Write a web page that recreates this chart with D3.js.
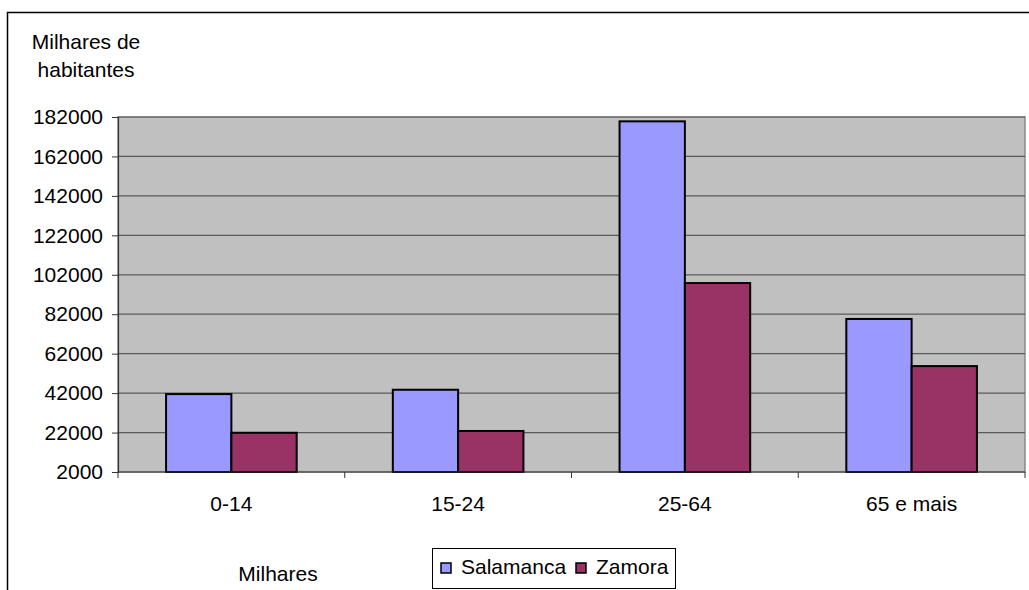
<!DOCTYPE html>
<html>
<head>
<meta charset="utf-8">
<script src="https://cdn.jsdelivr.net/npm/d3@7"></script>
<style>
  body { margin: 0; background: #fff; }
  svg { display: block; font-family: "Liberation Sans", Arial, sans-serif; }
</style>
</head>
<body>
<svg id="chart"></svg>
<script>
const categories = ['0-14', '15-24', '25-64', '65 e mais'];
const seriesNames = ['Salamanca', 'Zamora'];
const salamanca = [41500, 43700, 179800, 79600];
const zamora = [21900, 22800, 97800, 55700];
const yTicks = [2000, 22000, 42000, 62000, 82000, 102000, 122000, 142000, 162000, 182000];
const colors = ['#9999FF', '#993366'];

const width = 1029, height = 590;
const plot = { left: 118, top: 117, right: 1025, bottom: 472 };

const svg = d3.select('#chart').attr('width', width).attr('height', height);

// outer chart frame (only top and left edges show)
svg.append('path')
  .attr('d', `M7.5,${height} V12.5 H${width}`)
  .attr('fill', 'none')
  .attr('stroke', '#000')
  .attr('stroke-width', 1.5);

const x = d3.scaleBand().domain(categories).range([plot.left, plot.right]).padding(0);
const xInner = d3.scaleBand().domain(seriesNames).range([0, x.bandwidth()]).paddingInner(0).paddingOuter(0.736);
const y = d3.scaleLinear().domain([2000, 182000]).range([plot.bottom, plot.top]);

// plot background
svg.append('rect')
  .attr('x', plot.left).attr('y', plot.top)
  .attr('width', plot.right - plot.left).attr('height', plot.bottom - plot.top)
  .attr('fill', '#C0C0C0')
  .attr('stroke', '#8a8a8a').attr('stroke-width', 1.5);

// gridlines
svg.append('g')
  .selectAll('line')
  .data(yTicks.slice(1))
  .enter().append('line')
  .attr('x1', plot.left).attr('x2', plot.right)
  .attr('y1', d => y(d)).attr('y2', d => y(d))
  .attr('stroke', '#5a5a5a').attr('stroke-width', 1.2);

// bars
const rows = categories.map((c, i) => ({ cat: c, values: [salamanca[i], zamora[i]] }));
const groups = svg.append('g').selectAll('g')
  .data(rows)
  .enter().append('g')
  .attr('transform', d => `translate(${x(d.cat)},0)`);

groups.selectAll('rect')
  .data(d => d.values.map((v, j) => ({ name: seriesNames[j], value: v, idx: j })))
  .enter().append('rect')
  .attr('x', d => xInner(d.name))
  .attr('y', d => y(d.value))
  .attr('width', xInner.bandwidth())
  .attr('height', d => y(2000) - y(d.value))
  .attr('fill', d => colors[d.idx])
  .attr('stroke', '#000')
  .attr('stroke-width', 2);

// y axis
const yAxis = svg.append('g')
  .attr('transform', `translate(${plot.left},0)`)
  .call(d3.axisLeft(y).tickValues(yTicks).tickSize(6).tickPadding(9).tickFormat(d3.format('d')));
yAxis.select('.domain').attr('stroke', '#333').attr('stroke-width', 1.2);
yAxis.selectAll('.tick line').attr('stroke', '#333');
yAxis.selectAll('text').attr('font-size', 21).attr('fill', '#000')
  .attr('font-family', '"Liberation Sans", Arial, sans-serif');

// x axis (ticks on category boundaries)
const xAxis = svg.append('g').attr('transform', `translate(0,${plot.bottom})`);
xAxis.append('line')
  .attr('x1', plot.left).attr('x2', plot.right)
  .attr('stroke', '#333').attr('stroke-width', 1.2);
xAxis.selectAll('.tk')
  .data(categories)
  .enter().append('line')
  .attr('x1', d => x(d) + x.bandwidth()).attr('x2', d => x(d) + x.bandwidth())
  .attr('y1', 0).attr('y2', 6)
  .attr('stroke', '#333');
xAxis.append('line')
  .attr('x1', plot.left).attr('x2', plot.left).attr('y1', 0).attr('y2', 6)
  .attr('stroke', '#333');
xAxis.selectAll('.lbl')
  .data(categories)
  .enter().append('text')
  .attr('x', d => x(d) + x.bandwidth() / 2)
  .attr('y', 39)
  .attr('text-anchor', 'middle')
  .attr('font-size', 21)
  .text(d => d);

// axis titles
svg.append('text').attr('x', 86).attr('y', 49).attr('text-anchor', 'middle')
  .attr('font-size', 21).text('Milhares de');
svg.append('text').attr('x', 86).attr('y', 77).attr('text-anchor', 'middle')
  .attr('font-size', 21).text('habitantes');
svg.append('text').attr('x', 278).attr('y', 581).attr('text-anchor', 'middle')
  .attr('font-size', 21).text('Milhares');

// legend
const legend = svg.append('g');
legend.append('rect')
  .attr('x', 432.5).attr('y', 548.5).attr('width', 243).attr('height', 40)
  .attr('fill', '#fff').attr('stroke', '#000');
const legendX = [441, 576];
seriesNames.forEach((name, i) => {
  legend.append('rect')
    .attr('x', legendX[i]).attr('y', 563).attr('width', 10).attr('height', 10)
    .attr('fill', colors[i]).attr('stroke', '#000').attr('stroke-width', 1.5);
  legend.append('text')
    .attr('x', legendX[i] + 20).attr('y', 574)
    .attr('font-size', 21).text(name);
});
</script>
</body>
</html>
